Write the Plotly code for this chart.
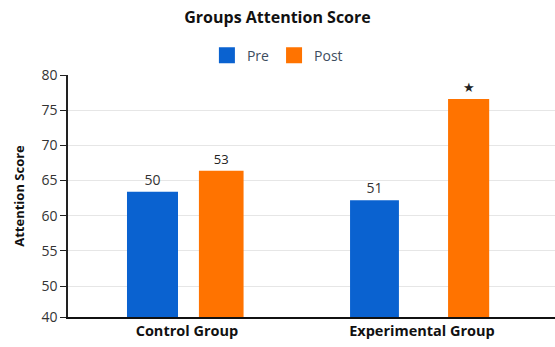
import plotly.graph_objects as go

# Data
groups = ["Control Group", "Experimental Group"]
pre_scores = [63.4, 62.2]
post_scores = [66.4, 76.6]
pre_labels = ["50", "51"]
post_labels = ["53", "★"]

# Y axis: compressed bottom segment labelled 40
y_floor = 45.6
y_tick_vals = [y_floor, 50, 55, 60, 65, 70, 75, 80]
y_tick_text = ["40", "50", "55", "60", "65", "70", "75", "80"]

BLUE = "#0a62d0"
ORANGE = "#ff7300"
FONT = "Open Sans"

fig = go.Figure()
fig.add_trace(go.Bar(
    x=groups, y=pre_scores, name="Pre", showlegend=False,
    marker=dict(color=BLUE, line=dict(width=0)),
    width=[0.217, 0.208], offset=[-0.255, -0.306],
    text=pre_labels, textposition="outside",
    textfont=dict(family=FONT, size=14, color="#333333"),
    cliponaxis=False,
))
fig.add_trace(go.Bar(
    x=groups, y=post_scores, name="Post", showlegend=False,
    marker=dict(color=ORANGE, line=dict(width=0)),
    width=[0.19, 0.175], offset=[0.051, 0.111],
    text=post_labels, textposition="outside",
    textfont=dict(family=FONT, size=13, color="#222222"),
    cliponaxis=False,
))

# Legend entries with larger square swatches
for name, color in [("Pre", BLUE), ("Post", ORANGE)]:
    fig.add_trace(go.Scatter(
        x=[None], y=[None], mode="markers", name=name,
        marker=dict(symbol="square", size=16, color=color),
    ))

fig.update_layout(
    width=555, height=347,
    margin=dict(l=68, r=0, t=75, b=30),
    paper_bgcolor="white", plot_bgcolor="white",
    font=dict(family=FONT, color="#333333"),
    title=dict(text="<b>Groups Attention Score</b>", x=0.5, xanchor="center",
               y=0.95, yanchor="middle",
               font=dict(family=FONT, size=16, color="#111111")),
    legend=dict(orientation="h", x=0.43, xanchor="center", y=1.08, yanchor="middle",
                font=dict(family=FONT, size=14, color="#3d4d60"),
                itemwidth=30, traceorder="normal", itemsizing="trace"),
    barmode="group",
)
fig.update_xaxes(
    type="category", range=[-0.506, 1.566],
    showline=True, linecolor="#111111", linewidth=2,
    ticks="", showgrid=False,
    tickfont=dict(family=FONT, size=14.5, color="#111111"),
    ticktext=["<b>Control Group</b>", "<b>Experimental Group</b>"],
    tickvals=groups,
)
fig.update_yaxes(
    range=[y_floor, 80], tickvals=y_tick_vals, ticktext=y_tick_text,
    showline=True, linecolor="#222222", linewidth=1.5,
    ticks="outside", ticklen=6, tickcolor="#222222",
    showgrid=True, gridcolor="#e6e6e6", gridwidth=1,
    zeroline=False,
    tickfont=dict(family=FONT, size=14, color="#333333"),
    title=dict(text="<b>Attention Score</b>", standoff=14,
               font=dict(family=FONT, size=13, color="#111111")),
)

fig.write_html("out.html")
